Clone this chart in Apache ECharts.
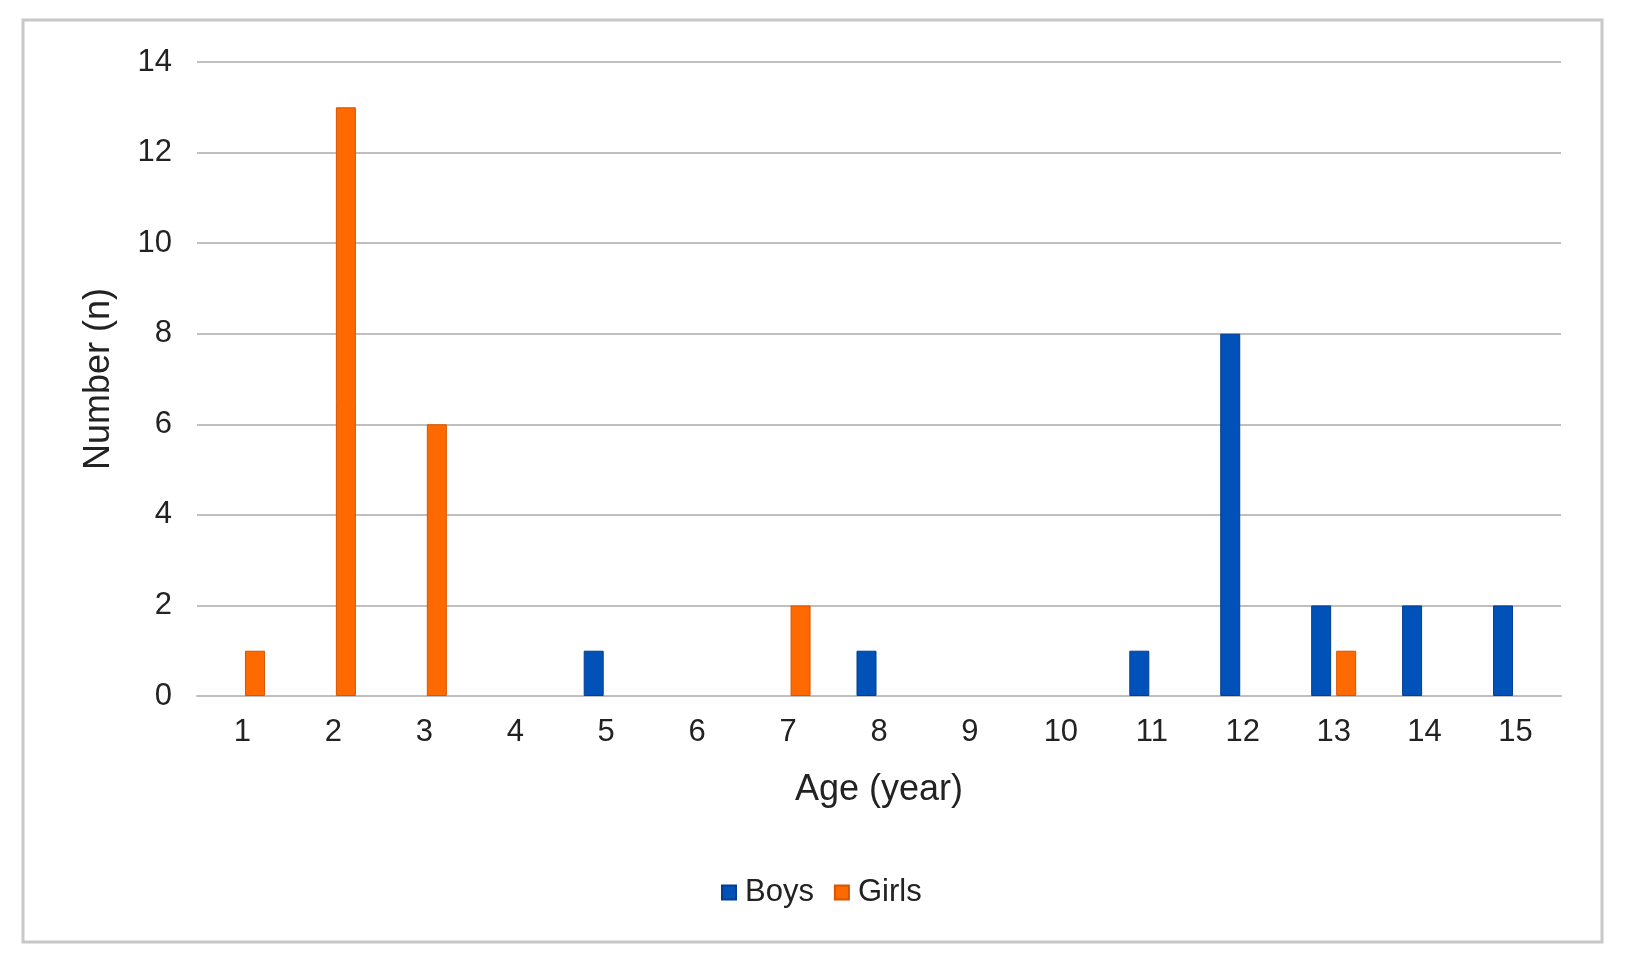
<!DOCTYPE html>
<html>
<head>
<meta charset="utf-8">
<script src="https://cdn.jsdelivr.net/npm/echarts@6/dist/echarts.min.js"></script>
<style>
html,body{margin:0;padding:0;background:#fff;}
#chart{width:1626px;height:965px;}
</style>
</head>
<body>
<div id="chart"></div>
<script>
const categories = ['1','2','3','4','5','6','7','8','9','10','11','12','13','14','15'];
const boys  = [null,null,null,null,1,null,null,1,null,null,1,8,2,2,2];
const girls = [1,13,6,null,null,null,2,null,null,null,null,null,1,null,null];
const yTicks = {min:0, max:14, interval:2};

const chart = echarts.init(document.getElementById('chart'));
const font = 'Liberation Sans, Arial, sans-serif';
chart.setOption({
  animation:false,
  backgroundColor:'#fff',
  graphic:[{
    type:'rect', z:-1,
    shape:{x:23,y:20,width:1579,height:922},
    style:{fill:'#fff', stroke:'#C8C8C8', lineWidth:3}
  }],
  grid:{left:197, right:65, top:62, bottom:269, containLabel:false},
  legend:{
    data:['Boys','Girls'],
    left:716, top:872,
    itemWidth:14, itemHeight:14, itemGap:20,
    icon:'rect',
    textStyle:{fontFamily:font, fontSize:31, color:'#222', padding:[0,0,0,4]}
  },
  xAxis:{
    type:'category', data:categories,
    name:'Age (year)', nameLocation:'middle', nameGap:76,
    nameTextStyle:{fontFamily:font, fontSize:36, color:'#222'},
    axisLine:{lineStyle:{color:'#BFBFBF', width:2}},
    axisTick:{show:false},
    axisLabel:{fontFamily:font, fontSize:31, color:'#222', margin:21}
  },
  yAxis:{
    type:'value', min:yTicks.min, max:yTicks.max, interval:yTicks.interval,
    name:'Number (n)', nameLocation:'middle', nameGap:80, nameRotate:90,
    nameTextStyle:{fontFamily:font, fontSize:36, color:'#222'},
    axisLine:{show:false}, axisTick:{show:false},
    axisLabel:{fontFamily:font, fontSize:31, color:'#222', margin:25},
    splitLine:{lineStyle:{color:'#BFBFBF', width:2}}
  },
  series:[
    {name:'Boys', type:'bar', data:boys, barWidth:20, barGap:'25%',
     itemStyle:{color:'#0052B9', borderColor:'#003E90', borderWidth:1}},
    {name:'Girls', type:'bar', data:girls, barWidth:20,
     itemStyle:{color:'#FF6A00', borderColor:'#D95400', borderWidth:1}}
  ]
});
</script>
</body>
</html>
